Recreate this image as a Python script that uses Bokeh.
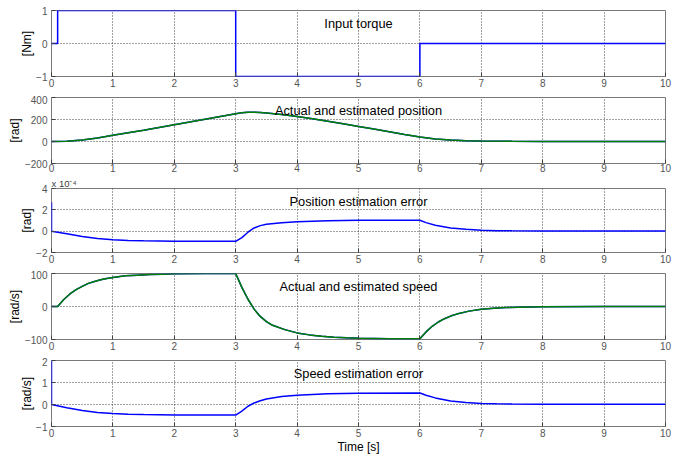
from bokeh.plotting import figure
from bokeh.layouts import column
from bokeh.models import FixedTicker, Label, Range1d, Title
from bokeh.embed import file_html
from bokeh.resources import INLINE

# ---------------- data ----------------
time_ticks = [0, 1, 2, 3, 4, 5, 6, 7, 8, 9, 10]

torque_t = [0, 0.1, 0.1, 3, 3, 6, 6, 10]
torque = [0, 0, 1, 1, -1, -1, 0, 0]

pos_t = [0, 0.25, 0.5, 0.75, 1.0, 1.25, 1.5, 1.75, 2.0, 2.25,
         2.5, 2.75, 3.0, 3.1, 3.2, 3.3, 3.4, 3.5, 3.75, 4.0,
         4.25, 4.5, 4.75, 5.0, 5.25, 5.5, 5.75, 6.0, 6.25, 6.5,
         6.75, 7.0, 7.5, 8.0, 9.0, 10.0]
pos_actual = [0, 2, 14, 32, 56, 79, 103, 128, 153, 178,
              203, 228, 253, 261, 265, 266, 264, 260, 246, 227,
              206, 184, 161, 137, 113, 89, 64, 40, 23, 13,
              7, 4, 1.5, 0.5, 0, 0]
pos_estimated = [0, 2, 14, 32, 56, 79, 103, 128, 153, 178,
                 203, 228, 253, 261, 265, 266, 264, 260, 246, 227,
                 206, 184, 161, 137, 113, 89, 64, 40, 23, 13,
                 7, 4, 1.5, 0.5, 0, 0]

err_t = [0, 0, 0.25, 0.5, 0.75, 1.0, 1.25, 1.5, 2.0, 2.5,
         3.0, 3.1, 3.2, 3.3, 3.4, 3.5, 3.75, 4.0, 4.5, 5.0,
         6.0, 6.1, 6.25, 6.5, 6.75, 7.0, 7.25, 7.5, 8.0, 9.0,
         10.0]
pos_error_e4 = [2.7, 0, -0.25, -0.5, -0.68, -0.8, -0.87, -0.91, -0.94, -0.95,
                -0.95, -0.6, -0.1, 0.3, 0.52, 0.65, 0.8, 0.88, 0.97, 1.02,
                1.03, 0.8, 0.55, 0.3, 0.17, 0.09, 0.05, 0.03, 0.02, 0.02,
                0.02]
speed_error = [2.0, 0, -0.15, -0.27, -0.36, -0.41, -0.44, -0.46, -0.48, -0.48,
               -0.48, -0.3, -0.08, 0.07, 0.17, 0.25, 0.36, 0.42, 0.49, 0.51,
               0.52, 0.42, 0.3, 0.16, 0.09, 0.05, 0.03, 0.02, 0.01, 0.01,
               0.01]

speed_t = [0, 0.1, 0.2, 0.3, 0.4, 0.5, 0.6, 0.7, 0.8, 0.9,
           1.0, 1.2, 1.4, 1.6, 1.8, 2.0, 2.5, 3.0, 3.1, 3.2,
           3.3, 3.4, 3.5, 3.6, 3.8, 4.0, 4.2, 4.4, 4.6, 4.8,
           5.0, 5.5, 6.0, 6.1, 6.2, 6.3, 6.4, 6.5, 6.6, 6.8,
           7.0, 7.2, 7.4, 7.6, 8.0, 9.0, 10.0]
speed_actual = [0, 0, 21, 38, 51, 61, 70, 76, 81, 85,
                88, 93, 95, 97, 98, 99, 100, 100, 58, 22,
                -8, -30, -46, -57, -70, -80, -86, -90, -93, -95,
                -96, -97.5, -98, -77, -60, -47, -37, -29, -23, -14,
                -8, -5, -3, -2, -0.5, 0, 0]
speed_estimated = [0, 0, 21, 38, 51, 61, 70, 76, 81, 85,
                   88, 93, 95, 97, 98, 99, 100, 100, 58, 22,
                   -8, -30, -46, -57, -70, -80, -86, -90, -93, -95,
                   -96, -97.5, -98, -77, -60, -47, -37, -29, -23, -14,
                   -8, -5, -3, -2, -0.5, 0, 0]

titles = ["Input torque", "Actual and estimated position", "Position estimation error",
          "Actual and estimated speed", "Speed estimation error"]
ylabels = ["[Nm]", "[rad]", "[rad]", "[rad/s]", "[rad/s]"]
yranges = [(-1, 1), (-200, 400), (-2, 4), (-100, 100), (-1, 2)]
yticks = [[-1, 0, 1], [-200, 0, 200, 400], [-2, 0, 2, 4], [-100, 0, 100], [-1, 0, 1, 2]]
xlabel = "Time [s]"
multiplier = "x 10\u207b\u2074"

# ---------------- styling ----------------
FONT = "Liberation Sans"
BLUE = "#0000ff"
GREEN = "#008000"
FRAME_H = 66
tops = [10, 2, 11, 3, 3]
bottoms = [19, 12, 18, 18, 31]
heights = [t + FRAME_H + b for t, b in zip(tops, bottoms)]
xlabel_standoff = [2, 0, 2, 2, 2]


def make_fig(i):
    lo, hi = yranges[i]
    p = figure(width=696, height=heights[i], x_range=Range1d(0, 10), y_range=Range1d(lo, hi),
               output_backend="svg", toolbar_location=None,
               min_border_left=51, min_border_right=31,
               min_border_top=tops[i], min_border_bottom=bottoms[i])
    p.background_fill_color = "white"
    p.border_fill_color = "white"
    p.outline_line_color = "#7a7a7a"
    p.outline_line_width = 1
    p.xaxis.ticker = FixedTicker(ticks=time_ticks)
    p.yaxis.ticker = FixedTicker(ticks=yticks[i])
    for ax in p.axis:
        ax.axis_line_color = None
        ax.major_tick_in = 4
        ax.major_tick_out = 0
        ax.minor_tick_in = 0
        ax.minor_tick_out = 0
        ax.major_tick_line_color = "#404040"
        ax.major_label_text_font = FONT
        ax.major_label_text_font_size = "10px"
        ax.major_label_text_color = "#555555"
        ax.axis_label_text_font = FONT
        ax.axis_label_text_font_size = "12px"
        ax.axis_label_text_font_style = "normal"
        ax.axis_label_text_color = "black"
    p.xaxis.major_label_standoff = xlabel_standoff[i]
    p.yaxis.major_label_standoff = 4
    # y label as a side title, right next to the tick labels
    p.add_layout(Title(text=ylabels[i], align="center", standoff=0,
                       text_font=FONT, text_font_size="12px", text_font_style="normal",
                       text_color="black"), "left")
    p.grid.grid_line_color = "#404040"
    p.grid.grid_line_dash = "1 2"
    p.grid.grid_line_width = 1
    span = hi - lo
    p.add_layout(Label(x=5, y=hi - 13 * span / FRAME_H, text=titles[i], text_align="center",
                       text_baseline="alphabetic", text_font=FONT, text_font_size="12.8px",
                       text_color="black"))
    return p


figs = [make_fig(i) for i in range(5)]

figs[0].line(torque_t, torque, line_color=BLUE, line_width=1.5)

figs[1].line(pos_t, pos_estimated, line_color=BLUE, line_width=1.5)
figs[1].line(pos_t, pos_actual, line_color=GREEN, line_width=1.5)

# "x 10^-4" multiplier of the position-error axis, as the title of that figure
t = figs[2].title
t.text = multiplier
t.align = "left"
t.standoff = 0
t.offset = 0
t.text_font = FONT
t.text_font_size = "9.5px"
t.text_font_style = "normal"
t.text_color = "#404040"

figs[2].line(err_t, pos_error_e4, line_color=BLUE, line_width=1.5)

figs[3].line(speed_t, speed_estimated, line_color=BLUE, line_width=1.5)
figs[3].line(speed_t, speed_actual, line_color=GREEN, line_width=1.5)

figs[4].line(err_t, speed_error, line_color=BLUE, line_width=1.5)
figs[4].xaxis.axis_label = xlabel
figs[4].xaxis.axis_label_standoff = 0

layout = column(*figs, spacing=0)
open("out.html", "w").write(file_html(layout, INLINE))
